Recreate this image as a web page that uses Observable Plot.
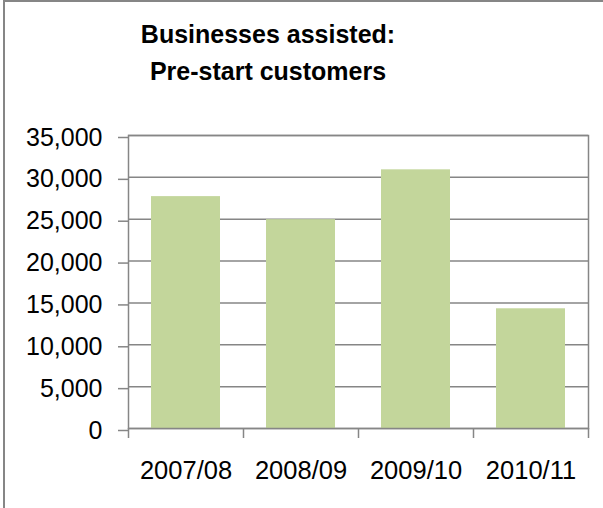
<!DOCTYPE html>
<html>
<head>
<meta charset="utf-8">
<script src="https://cdn.jsdelivr.net/npm/d3@7"></script>
<script src="https://cdn.jsdelivr.net/npm/@observablehq/plot@0.6"></script>
<style>
  html, body { margin: 0; padding: 0; background: #fff; }
  #wrap { position: relative; width: 603px; height: 508px; overflow: hidden; background: #fff; }
  #border { position: absolute; left: 3px; top: 0px; width: 700px; height: 700px;
            border-left: 2px solid #868686; border-top: 2px solid #868686; box-sizing: border-box; }
  #title { position: absolute; left: 68px; width: 400px; top: 16px; text-align: center;
           font-family: "Liberation Sans", Arial, sans-serif; font-weight: bold; font-size: 25px;
           line-height: 37px; color: #000; }
  #chart { position: absolute; left: 0; top: 0; }
</style>
</head>
<body>
<div id="wrap">
  <div id="border"></div>
  <div id="title">Businesses assisted:<br>Pre-start customers</div>
  <div id="chart"></div>
</div>
<script>
const categories = ["2007/08", "2008/09", "2009/10", "2010/11"];
const values = [27700, 24950, 30900, 14300];
const yTicks = [0, 5000, 10000, 15000, 20000, 25000, 30000, 35000];

const data = categories.map((c, i) => ({category: c, value: values[i]}));

const W = 603, H = 508, ML = 128, MR = 15, MT = 135, MB = 80;
const padInner = 0.4, padOuter = 0.2;
const step = (W - ML - MR) / (categories.length - padInner + 2 * padOuter);
const gray = "#868686";

const chart = Plot.plot({
  width: W,
  height: H,
  marginLeft: ML,
  marginRight: MR,
  marginTop: MT,
  marginBottom: MB,
  style: {fontFamily: "'Liberation Sans', Arial, sans-serif", background: "transparent", color: "#000", overflow: "visible"},
  x: {domain: categories, paddingInner: padInner, paddingOuter: padOuter, label: null},
  y: {domain: [0, 35000], label: null},
  marks: [
    Plot.ruleY(yTicks, {stroke: gray, strokeWidth: 1.5}),
    Plot.barY(data, {x: "category", y: "value", fill: "#C3D69B"}),
    Plot.frame({stroke: gray, strokeWidth: 1.5}),
    Plot.axisY({ticks: yTicks, tickFormat: d3.format(","), tickSize: 10, tickPadding: 16,
                fontSize: 25, stroke: gray, strokeWidth: 1.5, fill: "#000", dy: 2, label: null}),
    Plot.axisX({ticks: categories, tickSize: 10, dx: -step / 2, tickFormat: () => "",
                stroke: gray, strokeWidth: 1.5, label: null}),
    Plot.axisX({ticks: categories.slice(-1), tickSize: 10, dx: step / 2, tickFormat: () => "",
                stroke: gray, strokeWidth: 1.5, label: null}),
    Plot.axisX({ticks: categories, tickSize: 0, tickPadding: 32, fontSize: 25.5, fill: "#000", label: null})
  ]
});
document.getElementById("chart").appendChild(chart);
</script>
</body>
</html>
